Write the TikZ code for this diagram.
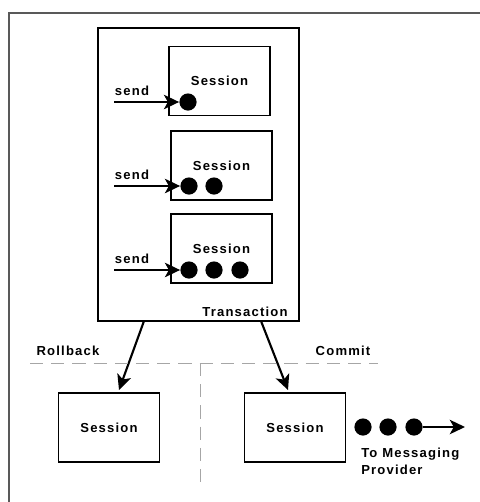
\documentclass[tikz,border=0pt]{standalone}
\usepackage{fontspec}
\usepackage{tikz}
\usetikzlibrary{arrows.meta,calc}
\newfontfamily\diagfont{Liberation Sans}[LetterSpace=9]

\begin{document}
\begin{tikzpicture}[
    x=0.025cm, y=-0.025cm,
    sessbox/.style={rectangle, draw, line width=1.4pt, minimum width=2.525cm, minimum height=1.725cm, inner sep=0, font=\diagfont\bfseries\fontsize{9.3}{11}\selectfont},
    msg/.style={circle, fill=black, minimum size=0.43cm, inner sep=0},
    lbl/.style={font=\diagfont\bfseries\fontsize{9.3}{12}\selectfont, inner sep=0},
    arrow/.style={-{Stealth[length=0.38cm, width=0.36cm, inset=0.1cm]}, line width=1.5pt},
    divider/.style={gray!70, line width=0.7pt, dash pattern=on 0.33cm off 0.2cm}
]
\useasboundingbox (0,0) rectangle (480,502);

% Frame
\draw[gray!70!black, line width=1.8pt] (9,502) -- (9,13) -- (480,13);

% Transaction
\node[rectangle, draw, line width=1.4pt, minimum width=5.025cm, minimum height=7.325cm] (trans) at (198.5,174.5) {};
\node[lbl] (translbl) at (245,312) {Transaction};

% Sessions inside the transaction
\node[sessbox] (s1) at (219.5,81) {Session};
\node[sessbox] (s2) at (221.5,165.5) {Session};
\node[sessbox] (s3) at (221.5,248.5) {Session};

% Messages
\node[msg] (m11) at (188,102) {};
\node[msg] (m21) at (189,186) {};
\node[msg] (m22) at (214,186) {};
\node[msg] (m31) at (189,270) {};
\node[msg] (m32) at (214,270) {};
\node[msg] (m33) at (240,270) {};

% Send arrows
\coordinate (in1) at (114,102);
\coordinate (in2) at (114,186);
\coordinate (in3) at (114,270);
\draw[arrow] (in1) -- (m11.west);
\draw[arrow] (in2) -- (m21.west);
\draw[arrow] (in3) -- (m31.west);
\node[lbl] (send1) at (132,91) {send};
\node[lbl] (send2) at (132,175) {send};
\node[lbl] (send3) at (132,259) {send};

% Outcome
\coordinate (rbstart) at (144,321);
\coordinate (rbend) at (119,390);
\coordinate (cmstart) at (261,321);
\coordinate (cmend) at (288,390);
\draw[arrow] (rbstart) -- (rbend);
\draw[arrow] (cmstart) -- (cmend);

\coordinate (hl) at (30,363);
\coordinate (hr) at (378,363);
\coordinate (vt) at (200,363);
\coordinate (vb) at (200,487);
\draw[divider] (hl) -- (hr);
\draw[divider] (vt) -- (vb);
\node[lbl] (rollback) at (68,351) {Rollback};
\node[lbl] (commit) at (343,351) {Commit};

\node[sessbox] (low1) at (109,427.5) {Session};
\node[sessbox] (low2) at (295,427.5) {Session};

% Committed messages
\node[msg] (o1) at (363,427) {};
\node[msg] (o2) at (388,427) {};
\node[msg] (o3) at (414,427) {};
\coordinate (provider) at (465,427);
\draw[arrow] (o3) -- (provider);
\node[lbl, align=left, anchor=west] (tomp) at (361,461) {To Messaging\\Provider};

\end{tikzpicture}
\end{document}
